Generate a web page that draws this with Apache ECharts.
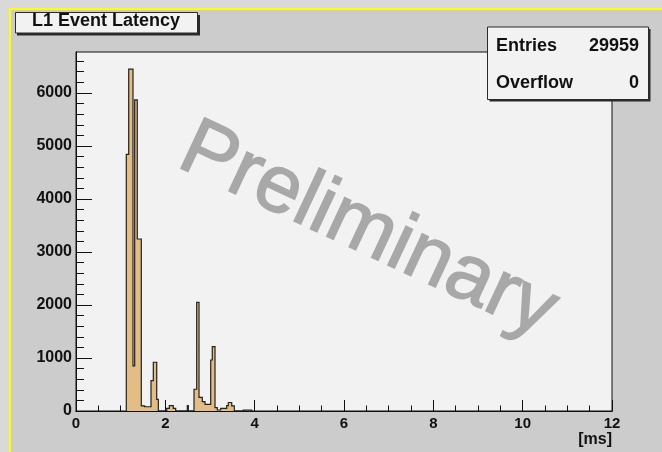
<!DOCTYPE html>
<html>
<head>
<meta charset="utf-8">
<script src="https://cdn.jsdelivr.net/npm/echarts@6/dist/echarts.min.js"></script>
<style>
  html, body { margin: 0; padding: 0; background: #d9d9d9; }
  #canvasPad { position: absolute; left: 9px; top: 8px; width: 651px; height: 442px;
               background: #cccccc; border-top: 2px solid #ffff00; border-left: 2px solid #ffff00; }
  #chart { position: absolute; left: 0; top: 0; width: 662px; height: 452px; }
</style>
</head>
<body>
<div id="canvasPad"></div>
<div id="chart"></div>
<script>
// L1 event latency histogram (ms). Bin i spans binEdges[i] .. binEdges[i+1].
const binEdges = [
  1.126, 1.180, 1.276, 1.314, 1.372, 1.462, 1.537, 1.679, 1.731, 1.807,
  1.843, 2.031, 2.089, 2.178, 2.232, 2.492, 2.515, 2.642, 2.702, 2.754,
  2.828, 2.888, 3.016, 3.051, 3.112, 3.163, 3.239, 3.374, 3.410, 3.486,
  3.544, 3.746, 3.934
];
const binCounts = [
  4840, 6450, 850, 5870, 3245, 95, 80, 572, 920, 220,
  0, 50, 100, 50, 0, 100, 0, 410, 2051, 258,
  176, 125, 962, 1213, 62, 19, 50, 100, 160, 95,
  0, 15
];

// Axis ticks
const xMajorTicks = [0, 2, 4, 6, 8, 10, 12];
const xMinorTicks = [0.5, 1, 1.5, 2.5, 3, 3.5, 4.5, 5, 5.5, 6.5, 7, 7.5, 8.5, 9, 9.5, 10.5, 11, 11.5];
const yMajorTicks = [0, 1000, 2000, 3000, 4000, 5000, 6000];
const yMinorTicks = [200, 400, 600, 800, 1200, 1400, 1600, 1800, 2200, 2400, 2600, 2800,
                     3200, 3400, 3600, 3800, 4200, 4400, 4600, 4800, 5200, 5400, 5600, 5800,
                     6200, 6400, 6600];

// Stats box
const statsLabels = ['Entries', 'Overflow'];
const statsValues = ['29959', '0'];

const titleText = 'L1 Event Latency';
const xUnit = '[ms]';
const watermark = 'Preliminary';

const X_MIN = 0, X_MAX = 12;
const Y_MAX = 1.05 * Math.max(...binCounts);

const FONT = '"Liberation Sans", Arial, Helvetica, sans-serif';
const INK = '#111111';

const chart = echarts.init(document.getElementById('chart'), null, { renderer: 'canvas' });

const plainNumber = v => String(v);

function xAxisDef(ticks, len, withLabels) {
  return {
    type: 'value', min: X_MIN, max: X_MAX, position: 'bottom',
    axisLine: { show: true, lineStyle: { color: INK, width: 1 } },
    axisTick: { show: true, inside: true, length: len, customValues: ticks, lineStyle: { color: INK, width: 1 } },
    axisLabel: withLabels ? {
      show: true, customValues: ticks, margin: 5, color: INK, formatter: plainNumber,
      fontFamily: FONT, fontWeight: 'bold', fontSize: 15
    } : { show: false },
    splitLine: { show: false }
  };
}
function yAxisDef(ticks, len, withLabels) {
  return {
    type: 'value', min: 0, max: Y_MAX, position: 'left',
    axisLine: { show: true, lineStyle: { color: INK, width: 1 } },
    axisTick: { show: true, inside: true, length: len, customValues: ticks, lineStyle: { color: INK, width: 1 } },
    axisLabel: withLabels ? {
      show: true, customValues: ticks, margin: 4, color: INK, formatter: plainNumber,
      fontFamily: FONT, fontWeight: 'bold', fontSize: 16
    } : { show: false },
    splitLine: { show: false }
  };
}

function renderHistogram(params, api) {
  const pts = [];
  pts.push(api.coord([binEdges[0], 0]));
  for (let i = 0; i < binCounts.length; i++) {
    pts.push(api.coord([binEdges[i], binCounts[i]]));
    pts.push(api.coord([binEdges[i + 1], binCounts[i]]));
  }
  pts.push(api.coord([binEdges[binEdges.length - 1], 0]));
  return {
    type: 'group',
    children: [
      { type: 'polygon', shape: { points: pts }, style: { fill: '#e3bd86', stroke: null } },
      { type: 'polyline', shape: { points: pts }, style: { fill: null, stroke: '#222222', lineWidth: 1.2 } }
    ]
  };
}

const option = {
  animation: false,
  backgroundColor: 'transparent',
  grid: {
    left: 76, right: 50, top: 52, bottom: 41,
    show: true, backgroundColor: '#f2f2f2', borderColor: INK, borderWidth: 1
  },
  xAxis: [ xAxisDef(xMajorTicks, 11, true), xAxisDef(xMinorTicks, 5.5, false) ],
  yAxis: [ yAxisDef(yMajorTicks, 16, true), yAxisDef(yMinorTicks, 8, false) ],
  series: [{
    type: 'custom',
    xAxisIndex: 0, yAxisIndex: 0,
    clip: true,
    data: [[binEdges[0], 0]],
    renderItem: renderHistogram,
    z: 2
  }],
  graphic: [
    // watermark
    { type: 'text', x: 368, y: 231, rotation: -0.437, z: 50,
      style: { text: watermark, fill: '#a8a8a8', font: '81px ' + FONT,
               stroke: '#a8a8a8', lineWidth: 1.5,
               textAlign: 'center', textVerticalAlign: 'middle' } },
    // title box
    { type: 'rect', shape: { x: 17, y: 15, width: 183, height: 20.5 }, style: { fill: '#2a2a2a' }, z: 60 },
    { type: 'rect', shape: { x: 15.5, y: 12.5, width: 182, height: 20.5 },
      style: { fill: '#f2f2f2', stroke: '#2a2a2a', lineWidth: 1 }, z: 61 },
    { type: 'text', x: 106, y: 21, z: 62,
      style: { text: titleText, fill: INK, font: 'bold 18px ' + FONT,
               textAlign: 'center', textVerticalAlign: 'middle' } },
    // stats box
    { type: 'rect', shape: { x: 489.5, y: 29, width: 161, height: 72.5 }, style: { fill: '#2a2a2a' }, z: 60 },
    { type: 'rect', shape: { x: 487.5, y: 27, width: 161, height: 72.5 },
      style: { fill: '#f2f2f2', stroke: '#2a2a2a', lineWidth: 1 }, z: 61 },
    { type: 'text', x: 496, y: 46, z: 62,
      style: { text: statsLabels[0], fill: INK, font: 'bold 18px ' + FONT, textAlign: 'left', textVerticalAlign: 'middle' } },
    { type: 'text', x: 639, y: 46, z: 62,
      style: { text: statsValues[0], fill: INK, font: 'bold 18px ' + FONT, textAlign: 'right', textVerticalAlign: 'middle' } },
    { type: 'text', x: 496, y: 83, z: 62,
      style: { text: statsLabels[1], fill: INK, font: 'bold 18px ' + FONT, textAlign: 'left', textVerticalAlign: 'middle' } },
    { type: 'text', x: 639, y: 83, z: 62,
      style: { text: statsValues[1], fill: INK, font: 'bold 18px ' + FONT, textAlign: 'right', textVerticalAlign: 'middle' } },
    // x unit
    { type: 'text', x: 612, y: 440, z: 62,
      style: { text: xUnit, fill: INK, font: 'bold 16px ' + FONT, textAlign: 'right', textVerticalAlign: 'middle' } }
  ]
};
chart.setOption(option);
</script>
</body>
</html>
